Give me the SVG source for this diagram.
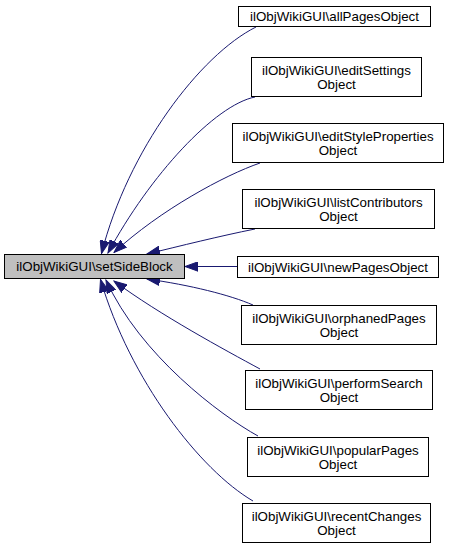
<svg xmlns="http://www.w3.org/2000/svg" width="449" height="547" viewBox="0 0 449 547">
<style>
  .box { fill: #ffffff; stroke: #000000; stroke-width: 1; }
  .main { fill: #bfbfbf; stroke: #000000; stroke-width: 1; }
  text { font-family: "Liberation Sans", Arial, Helvetica, sans-serif; font-size: 13.33px; fill: #000000; text-anchor: middle; }
  .edge { fill: none; stroke: #191970; stroke-width: 1; marker-end: url(#arrow); }
</style>
<defs>
  <marker id="arrow" markerUnits="userSpaceOnUse" markerWidth="14" markerHeight="10" viewBox="0 0 14 10" refX="13" refY="5" orient="auto">
    <path d="M0,0.3 L13,5 L0,9.7 Z" fill="#191970" stroke="#191970" stroke-width="1"/>
  </marker>
</defs>
<rect width="449" height="547" fill="#ffffff"/>
<g id="connectors">
  <path class="edge" d="M256,27 C200,55 128,150 101.5,253.5"/>
  <path class="edge" d="M255,97 C215,105 150,175 108,253"/>
  <path class="edge" d="M260,163 C225,175 160,210 114,252.5"/>
  <path class="edge" d="M255,229 C220,236 180,246 147,254"/>
  <path class="edge" d="M237,266.5 L185,266.5"/>
  <path class="edge" d="M253,305 C230,295 190,285 147,279"/>
  <path class="edge" d="M260,369 C225,350 160,315 114,281"/>
  <path class="edge" d="M258,436 C220,415 140,355 106,280"/>
  <path class="edge" d="M253,501 C200,470 130,380 100.5,279.5"/>
</g>
<g id="node-setSideBlock">
  <rect class="main" x="4.5" y="254.5" width="180" height="24"/>
  <text x="94.5" y="271">ilObjWikiGUI\setSideBlock</text>
</g>
<g id="node-allPagesObject">
  <rect class="box" x="238.5" y="6.5" width="192" height="20"/>
  <text x="334.5" y="21">ilObjWikiGUI\allPagesObject</text>
</g>
<g id="node-editSettingsObject">
  <rect class="box" x="251.5" y="57.5" width="170" height="39"/>
  <text x="336.5" y="74.5">ilObjWikiGUI\editSettings</text>
  <text x="336.5" y="88.5">Object</text>
</g>
<g id="node-editStylePropertiesObject">
  <rect class="box" x="232.5" y="123.5" width="211" height="39"/>
  <text x="338" y="140.5">ilObjWikiGUI\editStyleProperties</text>
  <text x="338" y="154.5">Object</text>
</g>
<g id="node-listContributorsObject">
  <rect class="box" x="242.5" y="189.5" width="192" height="39"/>
  <text x="338.5" y="206.5">ilObjWikiGUI\listContributors</text>
  <text x="338.5" y="220.5">Object</text>
</g>
<g id="node-newPagesObject">
  <rect class="box" x="237.5" y="256.5" width="201" height="21"/>
  <text x="338" y="271.5">ilObjWikiGUI\newPagesObject</text>
</g>
<g id="node-orphanedPagesObject">
  <rect class="box" x="241.5" y="305.5" width="195" height="39"/>
  <text x="339" y="322.5">ilObjWikiGUI\orphanedPages</text>
  <text x="339" y="336.5">Object</text>
</g>
<g id="node-performSearchObject">
  <rect class="box" x="245.5" y="370.5" width="187" height="39"/>
  <text x="339" y="387.5">ilObjWikiGUI\performSearch</text>
  <text x="339" y="401.5">Object</text>
</g>
<g id="node-popularPagesObject">
  <rect class="box" x="247.5" y="437.5" width="181" height="39"/>
  <text x="338" y="454.5">ilObjWikiGUI\popularPages</text>
  <text x="338" y="468.5">Object</text>
</g>
<g id="node-recentChangesObject">
  <rect class="box" x="242.5" y="503.5" width="188" height="39"/>
  <text x="336.5" y="520.5">ilObjWikiGUI\recentChanges</text>
  <text x="336.5" y="534.5">Object</text>
</g>
</svg>
